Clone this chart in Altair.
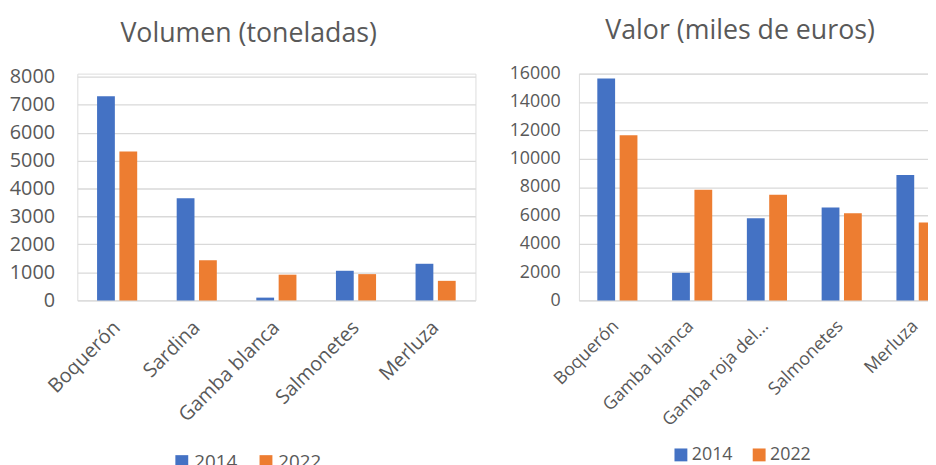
import altair as alt
import pandas as pd

years = ["2014", "2022"]

vol_species = ["Boquerón", "Sardina", "Gamba blanca", "Salmonetes", "Merluza"]
vol_2014 = [7300, 3650, 100, 1060, 1310]
vol_2022 = [5320, 1440, 920, 940, 700]
vol_ticks = [0, 1000, 2000, 3000, 4000, 5000, 6000, 7000, 8000]

val_species = ["Boquerón", "Gamba blanca", "Gamba roja del...", "Salmonetes", "Merluza"]
val_2014 = [15650, 1950, 5800, 6560, 8850]
val_2022 = [11650, 7800, 7450, 6150, 5500]
val_ticks = [0, 2000, 4000, 6000, 8000, 10000, 12000, 14000, 16000]

FONT = "Open Sans"
TXT = "#595959"
BLUE = "#4472C4"
ORANGE = "#ED7D31"
GRID = "#D9D9D9"


def make_df(species, a, b):
    rows = []
    for s, v1, v2 in zip(species, a, b):
        rows.append({"especie": s, "anio": years[0], "valor": v1})
        rows.append({"especie": s, "anio": years[1], "valor": v2})
    return pd.DataFrame(rows)


def panel(df, species, ticks, ymax, width, height, title, title_dx, title_offset,
          pin, pout, poff, legx, legy, colpad, loff, ylabpad, axfs, legfs, xlabpad):
    yscale = alt.Scale(domain=[0, ymax], nice=False, zero=True)
    color = alt.Color(
        "anio:N",
        scale=alt.Scale(domain=years, range=[BLUE, ORANGE]),
        legend=alt.Legend(
            title=None, orient="none", legendX=legx, legendY=legy,
            direction="horizontal", symbolType="square", symbolSize=169,
            symbolStrokeWidth=0, labelFontSize=legfs, labelFont=FONT,
            labelColor=TXT, labelOffset=loff, columnPadding=colpad, padding=0,
        ),
    )
    return alt.Chart(df).mark_bar().encode(
        x=alt.X(
            "especie:N", sort=species,
            scale=alt.Scale(paddingInner=pin, paddingOuter=pout),
            axis=alt.Axis(
                title=None, labelAngle=-45, labelAlign="right",
                labelBaseline="middle", labelPadding=xlabpad, ticks=False,
                domain=False, grid=False, labelFontSize=axfs, labelFont=FONT,
                labelColor=TXT, labelLimit=300,
            ),
        ),
        xOffset=alt.XOffset("anio:N", sort=years,
                            scale=alt.Scale(paddingInner=poff, paddingOuter=0)),
        y=alt.Y(
            "valor:Q", scale=yscale,
            axis=alt.Axis(
                title=None, values=ticks, format="d", ticks=False, domain=False,
                grid=True, gridColor=GRID, gridWidth=1.3, labelFontSize=axfs,
                labelFont=FONT, labelColor=TXT, labelPadding=ylabpad,
            ),
        ),
        color=color,
    ).properties(
        width=width, height=height,
        title=alt.TitleParams(
            text=title, fontSize=27, font=FONT, color=TXT, fontWeight="normal",
            anchor="middle", frame="group", dx=title_dx, offset=title_offset,
        ),
    )


left = panel(make_df(vol_species, vol_2014, vol_2022), vol_species, vol_ticks,
             8000 * 229 / 226, 402, 229, "Volumen (toneladas)", -28, 19,
             0.496, 0.248, 0.2035, 96, 382, 19, 3, 23, 20, 19, 24)
right = panel(make_df(val_species, val_2014, val_2022), val_species, val_ticks,
              16000, 377.5, 229, "Valor (miles de euros)", -26, 20.4,
              0.4927, 0.246, 0.202, 94, 376, 17, 2, 19, 18, 18, 23)

chart = alt.hconcat(left, right, spacing=32.5).resolve_legend(
    color="independent"
).resolve_scale(y="independent", x="independent").properties(
    padding={"left": 0, "top": 6, "right": -26, "bottom": 0}
).configure_view(strokeWidth=0, stroke="transparent").configure(background="white")

chart.save("out.html", embed_options={"renderer": "svg", "actions": False})
